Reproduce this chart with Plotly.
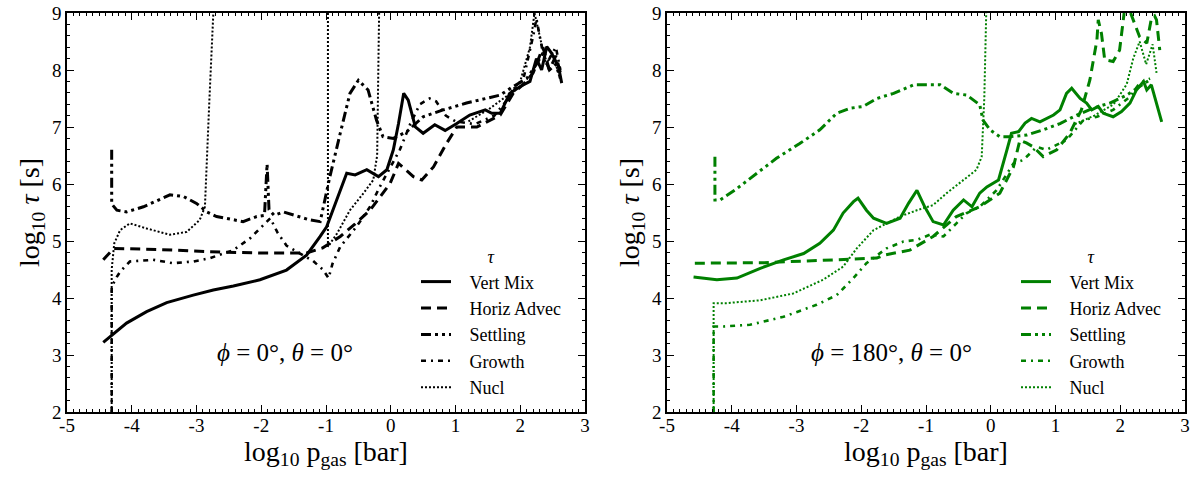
import plotly.graph_objects as go

# ---------------- data (log10 p_gas [bar], log10 tau [s]) ----------------
# phi = 0, theta = 0  (black)
vm0_x = [-4.44,-4.08,-3.77,-3.46,-3.05,-2.74,-2.43,-2.02,-1.61,-1.30,-1.09,-0.99,-0.835,-0.68,-0.55,-0.37,-0.19,-0.06,0.04,0.12,0.20,0.27,0.38,0.50,0.68,0.84,1.02,1.22,1.46,1.56,1.69,1.84,2.00,2.15,2.25,2.33,2.41,2.48,2.59,2.64]
vm0_y = [3.22,3.56,3.76,3.92,4.05,4.14,4.21,4.32,4.49,4.75,5.08,5.25,5.72,6.19,6.16,6.25,6.13,6.25,6.60,7.06,7.59,7.47,7.00,6.89,7.04,6.94,7.06,7.21,7.30,7.24,7.24,7.59,7.71,7.80,8.20,8.00,8.41,8.30,8.06,7.77]

ha0_x = [-4.44,-4.28,-3.56,-2.79,-2.02,-1.30,-1.05,-0.78,-0.55,-0.32,-0.01,0.12,0.35,0.48,0.66,0.86,1.02,1.33,1.69,1.89,2.05,2.20,2.35,2.45,2.55,2.62]
ha0_y = [4.67,4.87,4.85,4.81,4.79,4.79,4.88,5.08,5.30,5.54,6.01,6.36,6.13,6.07,6.30,6.71,7.00,7.00,7.21,7.59,7.75,7.95,8.40,8.00,8.25,7.95]

st0_x = [-4.31,-4.31,-4.23,-4.08,-3.82,-3.41,-3.20,-3.00,-2.84,-2.69,-2.28,-2.07,-1.95,-1.91,-1.88,-1.80,-1.66,-1.25,-1.09,-0.94,-0.78,-0.63,-0.50,-0.35,-0.22,-0.12,0.04,0.25,0.50,0.81,1.17,1.69,1.89,2.10,2.25,2.35,2.45,2.55,2.62]
st0_y = [6.60,5.65,5.54,5.51,5.60,5.81,5.78,5.66,5.51,5.43,5.34,5.43,5.45,6.35,5.55,5.45,5.51,5.37,5.34,6.13,6.89,7.59,7.82,7.65,7.12,6.83,6.80,6.92,7.18,7.30,7.42,7.56,7.71,7.85,8.10,8.30,8.00,8.10,7.85]

gr0_x = [-4.31,-4.31,-4.23,-4.18,-4.03,-3.67,-3.36,-3.05,-2.79,-2.43,-2.17,-2.02,-1.86,-1.75,-1.61,-1.40,-1.20,-1.05,-0.96,-0.90,-0.78,-0.53,-0.32,-0.17,-0.01,0.14,0.30,0.45,0.60,0.70,0.85,1.00,1.30,1.60,1.85,2.05,2.20,2.25,2.35,2.45,2.55,2.62]
gr0_y = [2.00,4.20,4.37,4.46,4.64,4.67,4.61,4.64,4.70,4.84,5.05,5.22,5.40,5.15,4.92,4.78,4.65,4.50,4.35,4.60,4.90,5.25,5.60,5.95,6.30,6.60,7.05,7.40,7.50,7.45,7.20,7.10,7.05,7.20,7.55,7.85,8.60,8.90,8.30,8.20,8.40,8.00]

nu0_x = [-4.31,-4.31,-4.27,-4.18,-4.03,-3.77,-3.41,-3.15,-2.95,-2.87,-2.80,-2.74,None,-0.97,-0.97,-0.83,-0.63,-0.42,-0.27,-0.21,-0.18,None,1.20,1.50,1.80,2.00,2.15,2.22,2.30,2.40,2.50,2.60]
nu0_y = [2.00,4.50,4.96,5.19,5.31,5.22,5.11,5.16,5.37,5.60,7.50,9.00,None,9.00,4.90,5.13,5.54,5.84,6.07,6.50,9.00,None,7.10,7.30,7.55,7.80,8.40,9.00,8.60,8.10,8.30,7.90]

# phi = 180, theta = 0  (green)
vm1_x = [-4.59,-4.23,-3.92,-3.56,-3.20,-2.89,-2.64,-2.43,-2.28,-2.12,-2.05,-1.92,-1.81,-1.61,-1.40,-1.27,-1.14,-1.02,-0.89,-0.73,-0.58,-0.42,-0.29,-0.17,-0.06,0.12,0.25,0.32,0.43,0.53,0.63,0.76,0.97,1.07,1.17,1.25,1.38,1.48,1.56,1.66,1.74,1.89,2.02,2.15,2.25,2.36,2.41,2.48,2.64]
vm1_y = [4.37,4.32,4.35,4.52,4.67,4.78,4.96,5.19,5.49,5.69,5.75,5.54,5.40,5.31,5.40,5.66,5.89,5.60,5.34,5.28,5.54,5.72,5.60,5.84,5.95,6.07,6.60,6.89,6.92,7.07,7.15,7.09,7.21,7.30,7.59,7.68,7.50,7.42,7.30,7.36,7.24,7.18,7.27,7.42,7.65,7.80,7.65,7.74,7.09]

ha1_x = [-4.57,-3.50,-2.38,-1.76,-1.66,-1.25,-0.89,-0.53,-0.17,0.14,0.35,0.45,0.55,0.66,0.81,1.02,1.22,1.40,1.53,1.64,1.66,1.71,1.76,1.89,1.99,2.06,None,2.16,2.30,2.41,2.48,2.53,2.56,2.61]
ha1_y = [4.61,4.62,4.67,4.70,4.75,4.84,5.08,5.43,5.60,5.84,6.30,6.77,6.72,6.65,6.48,6.60,6.89,7.30,7.82,8.53,8.88,8.64,8.18,8.15,8.35,9.00,None,9.00,8.58,8.47,8.90,8.95,8.88,8.35]

st1_x = [-4.26,-4.26,-4.18,-3.92,-3.61,-3.31,-2.95,-2.64,-2.38,-2.17,-1.97,-1.76,-1.50,-1.19,-0.78,-0.58,-0.37,-0.17,-0.12,-0.01,0.14,0.30,0.56,0.81,1.07,1.33,1.58,1.84,2.10,2.30,2.46]
st1_y = [6.48,5.72,5.72,5.92,6.19,6.45,6.71,6.95,7.24,7.33,7.36,7.50,7.59,7.74,7.74,7.59,7.56,7.39,7.12,6.95,6.83,6.83,6.86,6.95,7.06,7.21,7.33,7.42,7.56,7.71,7.83]

gr1_x = [-4.28,-4.28,-4.13,-3.72,-3.20,-2.89,-2.69,-2.38,-2.12,-1.92,-1.61,-1.35,-1.14,-0.94,-0.73,-0.53,-0.37,-0.17,0.09,0.35,0.50,0.71,0.86,1.17,1.43,1.64,1.89,2.15,2.30,2.46]
gr1_y = [2.00,3.50,3.50,3.53,3.67,3.80,3.88,4.05,4.35,4.61,4.87,4.99,5.02,5.11,5.08,5.31,5.49,5.60,5.89,6.36,6.42,6.65,6.60,6.77,7.12,7.18,7.30,7.53,7.77,7.85]

nu1_x = [-4.28,-4.28,-4.08,-3.56,-3.05,-2.59,-2.28,-2.07,-1.81,-1.40,-1.14,-0.89,-0.68,-0.42,-0.22,-0.14,-0.10,-0.07,None,1.30,1.60,1.90,2.10,2.20,2.30,2.40,2.50,2.56]
nu1_y = [2.00,3.91,3.91,3.96,4.08,4.32,4.55,4.87,5.19,5.43,5.54,5.63,5.84,6.07,6.25,6.48,7.50,9.00,None,7.05,7.20,7.40,7.75,8.20,8.50,8.10,8.45,7.95]

series_names = ["Vert Mix", "Horiz Advec", "Settling", "Growth", "Nucl"]
x_ticks = [-5, -4, -3, -2, -1, 0, 1, 2, 3]
x_tick_text = ["-5", "-4", "-3", "-2", "-1", "0", "1", "2", "3"]
x_range = [-5, 3]
y_range = [2, 9]
panel_labels = ["<i>ϕ</i> = 0°, <i>θ</i> = 0°", "<i>ϕ</i> = 180°, <i>θ</i> = 0°"]

# ---------------- styling ----------------
FONT = "Liberation Serif"
styles = [
    dict(width=3, dash="solid"),
    dict(width=3, dash="10px,6px"),
    dict(width=3, dash="10px,4px,3px,4px,3px,4px"),
    dict(width=2.6, dash="5px,5px,2px,5px"),
    dict(width=2, dash="2px,2px"),
]

panels = [
    dict(color="#000000", xa="x", ya="y", legend="legend",
         data=[(vm0_x, vm0_y), (ha0_x, ha0_y), (st0_x, st0_y), (gr0_x, gr0_y), (nu0_x, nu0_y)]),
    dict(color="#008000", xa="x2", ya="y2", legend="legend2",
         data=[(vm1_x, vm1_y), (ha1_x, ha1_y), (st1_x, st1_y), (gr1_x, gr1_y), (nu1_x, nu1_y)]),
]

fig = go.Figure()
for p_i, p in enumerate(panels):
    for i, (xs, ys) in enumerate(p["data"]):
        fig.add_trace(go.Scatter(
            x=xs, y=ys, mode="lines", connectgaps=False,
            name="\u00a0\u00a0\u00a0" + series_names[i],
            line=dict(color=p["color"], width=styles[i]["width"], dash=styles[i]["dash"]),
            xaxis=p["xa"], yaxis=p["ya"], legend=p["legend"],
            legendgroup=f"p{p_i}_{i}",
        ))

def common_axis():
    return dict(
        ticks="inside", ticklen=7, tickwidth=1, tickcolor="black",
        mirror="allticks", showline=True, linecolor="black", linewidth=1.5,
        showgrid=False, zeroline=False,
        tickfont=dict(family=FONT, size=19, color="black"),
        automargin=False,
    )

def xaxis(domain, anchor):
    d = common_axis()
    d.update(
        domain=domain, anchor=anchor, range=x_range,
        tickmode="array", tickvals=x_ticks, ticktext=x_tick_text,
        minor=dict(dtick=0.1, ticks="inside", ticklen=3.5, tickwidth=1,
                   tickcolor="black", showgrid=False),
        ticklabelstandoff=-5,
        title=dict(text="log<sub>10</sub> p<sub>gas</sub> [bar]",
                   font=dict(family=FONT, size=28, color="black"), standoff=0),
    )
    return d

def yaxis(domain, anchor):
    d = common_axis()
    d.update(
        domain=domain, anchor=anchor, range=y_range,
        tickmode="linear", tick0=2, dtick=1,
        minor=dict(dtick=0.2, ticks="inside", ticklen=3.5, tickwidth=1,
                   tickcolor="black", showgrid=False),
        ticklabelstandoff=0,
        title=dict(text="log<sub>10</sub> <i>τ</i> [s]",
                   font=dict(family=FONT, size=28, color="black"), standoff=4),
    )
    return d

W, H = 1200, 477
yd = [1 - 412 / H, 1 - 13 / H]
x1d = [67 / W, 585 / W]
x2d = [667 / W, 1185 / W]

def legend_cfg(xpx):
    return dict(
        x=xpx / W, y=1 - 240 / H, xanchor="left", yanchor="top",
        bgcolor="rgba(0,0,0,0)", borderwidth=0,
        font=dict(family=FONT, size=18, color="black"),
        title=dict(text="<i>τ</i>", side="top center",
                   font=dict(family=FONT, size=18, color="black")),
        tracegroupgap=0, itemwidth=30,
    )

fig.update_layout(
    width=W, height=H,
    margin=dict(l=0, r=0, t=0, b=0),
    paper_bgcolor="white", plot_bgcolor="white",
    xaxis=xaxis(x1d, "y"), yaxis=yaxis(yd, "x"),
    xaxis2=xaxis(x2d, "y2"), yaxis2=yaxis(yd, "x2"),
    legend=legend_cfg(416), legend2=legend_cfg(1016),
    showlegend=True,
    annotations=[
        dict(text=panel_labels[0], x=-1.63, y=3.05, xref="x", yref="y",
             showarrow=False, font=dict(family=FONT, size=25, color="black")),
        dict(text=panel_labels[1], x=-1.54, y=3.05, xref="x2", yref="y2",
             showarrow=False, font=dict(family=FONT, size=25, color="black")),
    ],
)

fig.write_html("out.html", config={"displayModeBar": False},
               post_script="document.body.style.margin='0';")
